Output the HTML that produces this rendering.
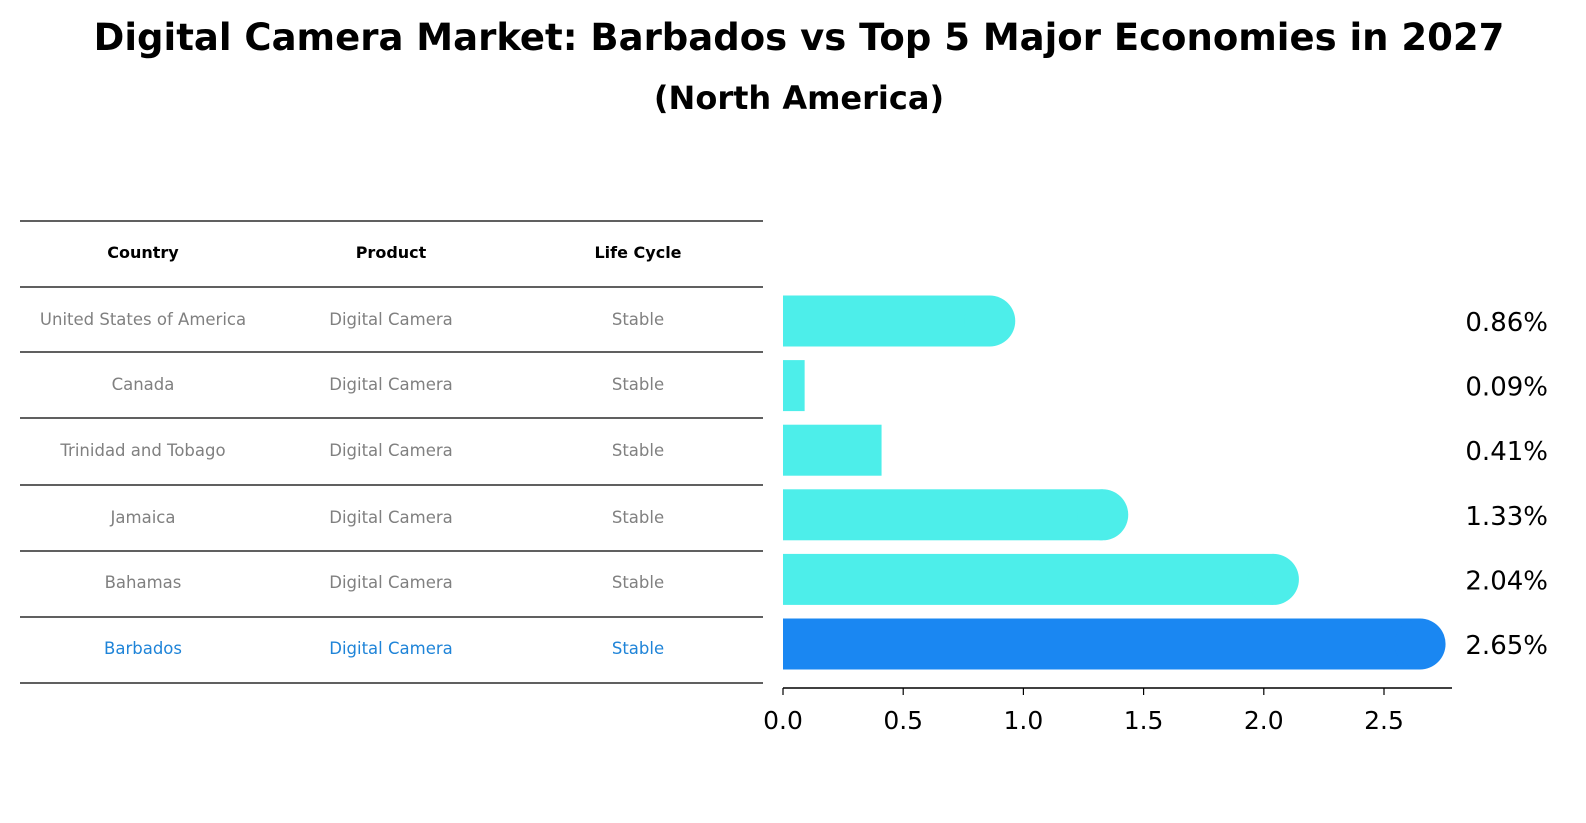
<!DOCTYPE html>
<html><head><meta charset="utf-8"><style>
body{margin:0;background:#fff;}
svg{display:block;font-family:"DejaVu Sans","Liberation Sans",sans-serif;}
</style></head><body>
<svg id="chart" width="1586" height="823" viewBox="0 0 1586 823">
<text x="799" y="50" text-anchor="middle" font-size="37" font-weight="bold">Digital Camera Market: Barbados vs Top 5 Major Economies in 2027</text>
<text x="799" y="109" text-anchor="middle" font-size="32" font-weight="bold">(North America)</text>
<g id="table"></g>
<g id="bars"></g>
<g id="xaxis"></g>
</svg>
<script>
const countries=["United States of America","Canada","Trinidad and Tobago","Jamaica","Bahamas","Barbados"];
const products=["Digital Camera","Digital Camera","Digital Camera","Digital Camera","Digital Camera","Digital Camera"];
const lifeCycles=["Stable","Stable","Stable","Stable","Stable","Stable"];
const values=[0.86,0.09,0.41,1.33,2.04,2.65];
const xTicks=[0,0.5,1,1.5,2,2.5];
const headers=["Country","Product","Life Cycle"];

const NS="http://www.w3.org/2000/svg";
function mk(tag,attrs,parent){const e=document.createElementNS(NS,tag);for(const k in attrs)e.setAttribute(k,attrs[k]);parent.appendChild(e);return e;}
const x0=783,pxPerUnit=240.4;
const xs=v=>x0+v*pxPerUnit;
const rowY=i=>321+i*64.6;
const barH=51;

const tbl=document.getElementById('table');
const lineYs=[221,287,352,418,485,551,617,683];
lineYs.forEach((y,i)=>{const l=mk('line',{x1:20,x2:763,y1:y,y2:y,stroke:'#000','stroke-width':1.2},tbl);

});
const colX=[143,391,638];
headers.forEach((h,j)=>{const t=mk('text',{x:colX[j],y:258,'text-anchor':'middle','font-size':16,'font-weight':'bold'},tbl);t.textContent=h;

});
const tableRowY=[319,384,450,517,582,648];
countries.forEach((c,i)=>{const col=i===countries.length-1?'#1f84d8':'#808080';
[c,products[i],lifeCycles[i]].forEach((v,j)=>{const t=mk('text',{x:colX[j],y:tableRowY[i]+6,'text-anchor':'middle','font-size':16.5,fill:col},tbl);t.textContent=v;

});});

const bg=document.getElementById('bars');
values.forEach((v,i)=>{const hl=i===values.length-1;const col=hl?'#1a87f2':'#4deeea';
const cy=rowY(i),xe=xs(v),r=barH/2;
const g=mk('g',{},bg);


mk('rect',{x:x0,y:cy-r,width:xe-x0,height:barH,fill:col},g);
if(v>0.5)mk('circle',{cx:xe,cy:cy,r:r,fill:col},g);
const t=mk('text',{x:1548,y:cy+10,'text-anchor':'end','font-size':26},bg);t.textContent=v.toFixed(2)+'%';

});

const ax=document.getElementById('xaxis');
mk('line',{x1:x0,x2:1452,y1:688,y2:688,stroke:'#000','stroke-width':1.5},ax);
xTicks.forEach(v=>{mk('line',{x1:xs(v),x2:xs(v),y1:688,y2:695,stroke:'#000','stroke-width':1.2},ax);
const t=mk('text',{x:xs(v),y:729,'text-anchor':'middle','font-size':25},ax);t.textContent=v.toFixed(1);

});
</script>
</body></html>
